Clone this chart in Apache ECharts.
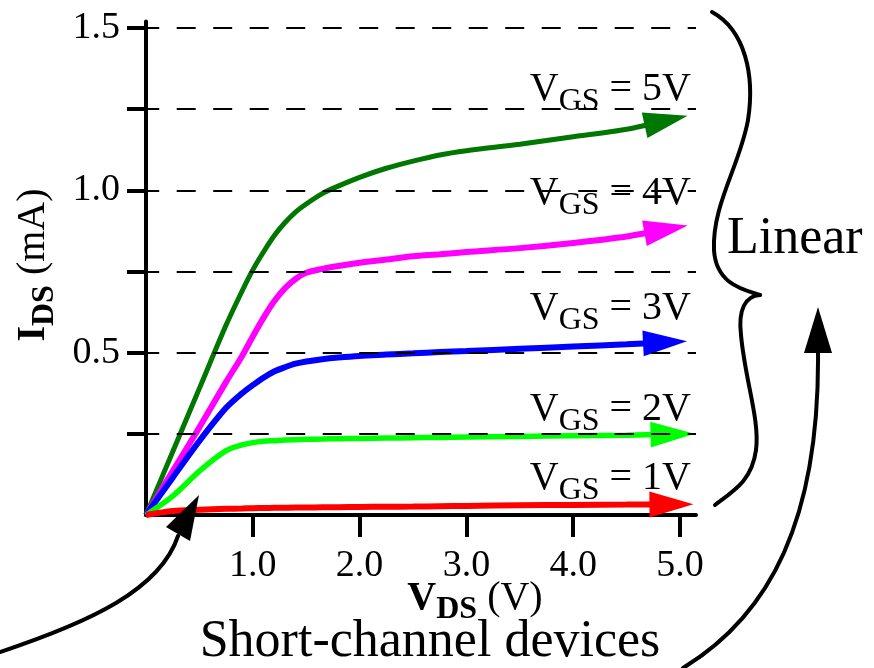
<!DOCTYPE html>
<html><head><meta charset="utf-8">
<script src="https://cdn.jsdelivr.net/npm/echarts@6/dist/echarts.min.js"></script>
<style>html,body{margin:0;padding:0;background:#fff}#c{width:874px;height:668px}</style>
</head><body><div id="c"></div>
<script>
// ---- data ----
const vdsGrid = [0, 0.25, 0.5, 0.75, 0.9, 1.0, 1.1, 1.2, 1.3, 1.4, 1.5, 1.65, 1.8, 2.0, 2.25, 2.5, 2.75, 3.0, 3.5, 4.0, 4.5];
const idsVgs5 = [0, 0.195, 0.39, 0.585, 0.69, 0.755, 0.81, 0.86, 0.90, 0.933, 0.958, 0.99, 1.013, 1.04, 1.068, 1.09, 1.109, 1.122, 1.142, 1.165, 1.188];
const idsVgs4 = [0, 0.135, 0.27, 0.41, 0.49, 0.55, 0.607, 0.658, 0.698, 0.727, 0.746, 0.758, 0.767, 0.777, 0.787, 0.797, 0.803, 0.81, 0.822, 0.838, 0.858];
const idsVgs3 = [0, 0.115, 0.228, 0.33, 0.375, 0.40, 0.423, 0.442, 0.455, 0.466, 0.473, 0.48, 0.485, 0.49, 0.494, 0.498, 0.502, 0.505, 0.512, 0.519, 0.526];
const idsVgs2 = [0, 0.058, 0.135, 0.198, 0.216, 0.223, 0.227, 0.229, 0.231, 0.232, 0.233, 0.234, 0.235, 0.236, 0.237, 0.238, 0.239, 0.240, 0.242, 0.244, 0.246];
const idsVgs1 = [0, 0.012, 0.016, 0.019, 0.020, 0.021, 0.0215, 0.022, 0.0225, 0.023, 0.023, 0.0235, 0.024, 0.025, 0.0255, 0.026, 0.027, 0.028, 0.030, 0.031, 0.032];
const arrowVds = [4.87, 4.87, 4.86, 4.93, 4.92];
const arrowIds = [1.215, 0.88, 0.532, 0.249, 0.033];
const vgsValues = ['5V', '4V', '3V', '2V', '1V'];
const curveColors = ['#007700', '#ff00ff', '#0000ff', '#00ff00', '#ff0000'];
const gridLevels = [0.25, 0.5, 0.75, 1.0, 1.25, 1.5];
const xTickValues = [1, 2, 3, 4, 5];
const yTickValues = [0.25, 0.5, 0.75, 1.0, 1.25, 1.5];
const yLabelValues = [0.5, 1.0, 1.5];

const curves = [idsVgs5, idsVgs4, idsVgs3, idsVgs2, idsVgs1];
const FONT = 'Liberation Serif';
const MID = 0.3375; // baseline offset of canvas 'middle' for Liberation Serif

// layout of labels (pixel positions, not data)
const vgsLabelRight = 691;
const vgsLabelBaseline = [103, 207, 322, 423, 492];
const lineWidths = [5, 6, 6, 5.5, 6];

const chart = echarts.init(document.getElementById('c'), null, {renderer: 'canvas'});

const mctx = document.createElement('canvas').getContext('2d');
function textWidth(t, size, bold) {
  mctx.font = (bold ? 'bold ' : '') + size + 'px "' + FONT + '"';
  return mctx.measureText(t).width;
}
// text with subscripts: parts = [{t, size, bold, dy}], y = baseline
function subText(x, y, align, parts, rotation) {
  const widths = parts.map(p => textWidth(p.t, p.size, p.bold));
  const total = widths.reduce((a, b) => a + b, 0);
  let cur = align === 'right' ? -total : align === 'center' ? -total / 2 : 0;
  const children = parts.map((p, i) => {
    const c = {type: 'text', x: cur, y: (p.dy || 0) - MID * p.size, silent: true,
      style: {text: p.t, fontSize: p.size, fontFamily: FONT, fontWeight: p.bold ? 'bold' : 'normal',
        fill: '#000', align: 'left', verticalAlign: 'middle'}};
    cur += widths[i];
    return c;
  });
  return {type: 'group', x, y, rotation: rotation || 0, z: 20, silent: true, children};
}

function buildSeries(rot) {
  const s = curves.map((ids, k) => ({
    type: 'line',
    name: 'VGS = ' + vgsValues[k],
    smooth: 0.3,
    symbol: 'none',
    z: 2,
    silent: true,
    lineStyle: {color: curveColors[k], width: lineWidths[k]},
    itemStyle: {color: curveColors[k]},
    emphasis: {disabled: true},
    data: vdsGrid.map((v, j) => [v, ids[j]]).concat([{
      value: [arrowVds[k], arrowIds[k]],
      symbol: 'triangle',
      symbolSize: [26, 44],
      symbolRotate: rot ? rot[k] : -90,
      itemStyle: {color: curveColors[k]}
    }])
  }));
  s.push({
    type: 'line', name: 'levels', data: [], z: 5, silent: true,
    markLine: {
      silent: true, symbol: 'none', animation: false,
      label: {show: false},
      emphasis: {disabled: true},
      lineStyle: {color: '#000', width: 2, type: [19, 17.5], dashOffset: 5.8},
      data: gridLevels.map(v => ({yAxis: v}))
    }
  });
  return s;
}

function bez(x1, y1, cpx1, cpy1, cpx2, cpy2, x2, y2) {
  return {type: 'bezierCurve', silent: true, z: 10,
    shape: {x1, y1, cpx1, cpy1, cpx2, cpy2, x2, y2},
    style: {stroke: '#000', lineWidth: 4, fill: null, lineCap: 'round'}};
}

const graphics = [];
// V_GS labels
vgsValues.forEach((v, k) => {
  graphics.push(subText(vgsLabelRight, vgsLabelBaseline[k], 'right', [
    {t: 'V', size: 40}, {t: 'GS', size: 32, dy: 9}, {t: ' = ' + v, size: 40}
  ]));
});
// axis titles
graphics.push(subText(475, 612, 'center', [
  {t: 'V', size: 40, bold: true}, {t: 'DS', size: 32, bold: true, dy: 9}, {t: ' (V)', size: 40}
]));
graphics.push(subText(47, 265, 'center', [
  {t: 'I', size: 40, bold: true}, {t: 'DS', size: 32, bold: true, dy: 9}, {t: ' (mA)', size: 40}
], Math.PI / 2));
// annotations
graphics.push(subText(430, 660, 'center', [{t: 'Short-channel devices', size: 52}]));
graphics.push(subText(727, 257, 'left', [{t: 'Linear', size: 52}]));
// curly brace
graphics.push(bez(712, 12, 745, 30, 755, 75, 748, 120));
graphics.push(bez(748, 120, 740, 165, 712, 205, 714, 250));
graphics.push(bez(714, 250, 716, 285, 745, 290, 760, 295));
graphics.push(bez(760, 295, 745, 296, 738, 310, 741, 335));
graphics.push(bez(741, 335, 745, 380, 760, 420, 756, 450));
graphics.push(bez(756, 450, 752, 480, 735, 490, 715, 505));
// right arrow
graphics.push(bez(683, 668, 770, 615, 820, 520, 818, 350));
graphics.push({type: 'polygon', silent: true, z: 10, shape: {points: [[818, 307], [804, 353], [832, 353]]}, style: {fill: '#000'}});
// left arrow
graphics.push(bez(0, 652, 90, 622, 160, 590, 178, 536));
graphics.push({type: 'polygon', silent: true, z: 10, shape: {points: [[199, 495], [166, 527], [190, 541]]}, style: {fill: '#000'}});

const option = {
  animation: false,
  backgroundColor: '#fff',
  grid: {left: 146, right: 178, top: 21.5, bottom: 153, containLabel: false},
  xAxis: {
    type: 'value', min: 0, max: 5.15, interval: 1,
    axisLine: {show: true, onZero: false, lineStyle: {color: '#000', width: 4}},
    axisTick: {show: true, customValues: xTickValues, length: 22, lineStyle: {color: '#000', width: 4}},
    axisLabel: {show: true, customValues: xTickValues, formatter: v => Number(v).toFixed(1), margin: 32,
      fontFamily: FONT, fontSize: 38, color: '#000'},
    splitLine: {show: false}
  },
  yAxis: {
    type: 'value', min: 0, max: 1.52, interval: 0.25,
    axisLine: {show: true, onZero: false, lineStyle: {color: '#000', width: 4}},
    axisTick: {show: true, customValues: yTickValues, length: 19, lineStyle: {color: '#000', width: 4}},
    axisLabel: {show: true, customValues: yLabelValues, formatter: v => Number(v).toFixed(1), margin: 26,
      fontFamily: FONT, fontSize: 38, color: '#000'},
    splitLine: {show: false}
  },
  series: buildSeries(null),
  graphic: {elements: graphics}
};
chart.setOption(option);

// orient arrowheads along the final segment of each curve
const rots = curves.map((ids, k) => {
  const n = vdsGrid.length - 1;
  const p1 = chart.convertToPixel({gridIndex: 0}, [vdsGrid[n], ids[n]]);
  const p2 = chart.convertToPixel({gridIndex: 0}, [arrowVds[k], arrowIds[k]]);
  const ang = Math.atan2(p1[1] - p2[1], p2[0] - p1[0]) * 180 / Math.PI;
  return -90 + ang;
});
chart.setOption({series: buildSeries(rots)});
</script>
</body></html>
